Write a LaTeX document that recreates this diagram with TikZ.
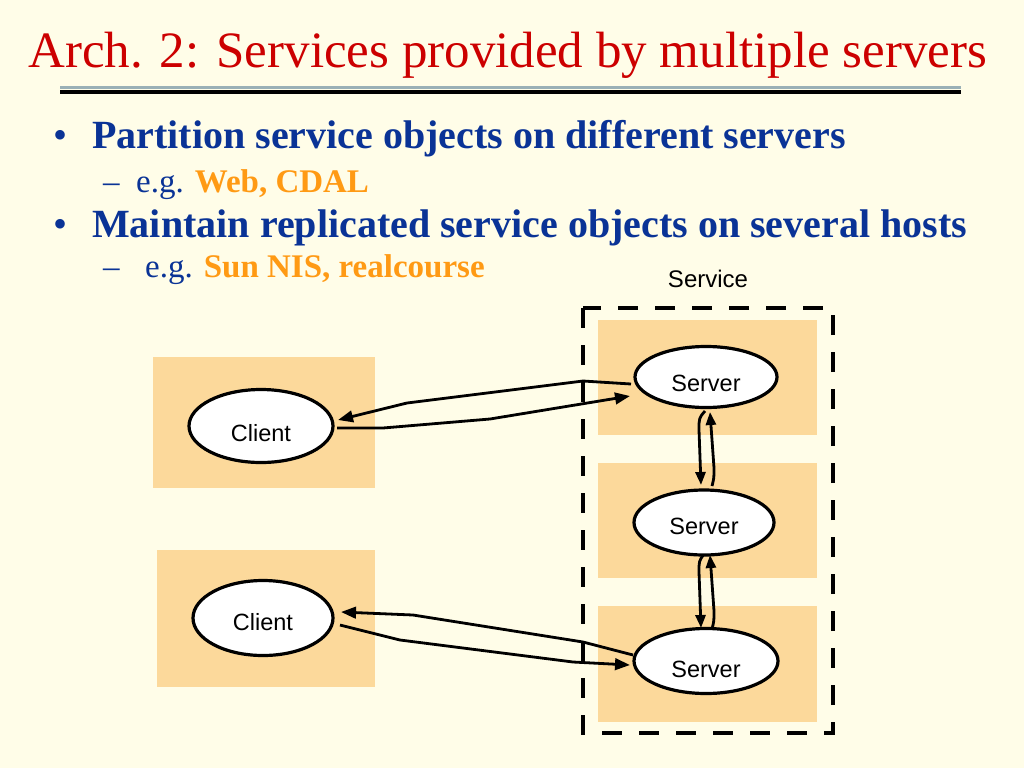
\documentclass[tikz,border=0pt]{standalone}
\usepackage{fontspec}
\setmainfont{Liberation Serif}
\newfontfamily\arialf{Liberation Sans}
\usetikzlibrary{shapes.geometric,arrows.meta}
\definecolor{bgc}{HTML}{FFFDE8}
\definecolor{tanc}{HTML}{FCD99B}
\definecolor{titlered}{HTML}{CC0000}
\definecolor{bluec}{HTML}{0A3396}
\definecolor{orangec}{HTML}{FF9A14}
\definecolor{greyc}{HTML}{9AB0B6}
\begin{document}
\begin{tikzpicture}[x=1pt,y=-1pt,
  tanbox/.style={fill=tanc,draw=none,inner sep=0,outer sep=0},
  ell/.style={ellipse,draw=black,line width=3.2pt,fill=white,inner sep=0,outer sep=0},
  lbl/.style={font=\arialf\fontsize{23.5}{26}\selectfont,inner sep=0},
  arr/.style={line width=2.8pt,-{Triangle[length=15pt,width=11.5pt]},line join=round},
  varr/.style={line width=2.8pt,-{Triangle[length=13pt,width=10pt]},line join=round},
  txt/.style={anchor=base west,inner sep=0},
]
\useasboundingbox (0,0) rectangle (1024,768);
\fill[bgc] (0,0) rectangle (1024,768);

% title
\node[txt,text=titlered,font=\fontsize{51}{60}\selectfont] (title) at (28,67) {Arch. 2: Services provided by multiple servers};
\draw[line width=2.4pt,greyc] (60,87.3) -- (961,87.3);
\draw[line width=4pt,black] (60,91.5) -- (961,91.5);

% bullets
\node[txt,text=bluec,font=\fontsize{40}{46}\selectfont] (b1dot) at (53,148) {•};
\node[txt,text=bluec,font=\fontsize{40}{46}\selectfont\bfseries] (b1) at (92,148) {Partition service objects on different servers};
\node[txt,text=bluec,font=\fontsize{33}{38}\selectfont] (s1dash) at (103,192) {–};
\node[txt,text=bluec,font=\fontsize{33}{38}\selectfont] (s1t) at (136,192) {e.g. \textcolor{orangec}{\bfseries Web, CDAL}};
\node[txt,text=bluec,font=\fontsize{40}{46}\selectfont] (b2dot) at (53,237) {•};
\node[txt,text=bluec,font=\fontsize{40}{46}\selectfont\bfseries] (b2) at (92,237) {Maintain replicated service objects on several hosts};
\node[txt,text=bluec,font=\fontsize{33}{38}\selectfont] (s2dash) at (103,277) {–};
\node[txt,text=bluec,font=\fontsize{33}{38}\selectfont] (s2t) at (145,277) {e.g. \textcolor{orangec}{\bfseries Sun NIS, realcourse}};

% service label
\node[anchor=base,inner sep=0,font=\arialf\fontsize{24}{28}\selectfont] (svc) at (708,287) {Service};

% tan boxes
\node[tanbox,minimum width=219pt,minimum height=115pt] (bx1) at (707.5,377.5) {};
\node[tanbox,minimum width=219pt,minimum height=115pt] (bx2) at (707.5,520.5) {};
\node[tanbox,minimum width=219pt,minimum height=116pt] (bx3) at (707.5,664) {};
\node[tanbox,minimum width=222pt,minimum height=131pt] (cb1) at (264,422.5) {};
\node[tanbox,minimum width=218pt,minimum height=137pt] (cb2) at (266,618.5) {};

% dashed service boundary
\draw[line width=3.2pt,dash pattern=on 20pt off 17pt] (583,308) rectangle (833,733);

% coordinates for connector ends
\coordinate (aS) at (631,384);
\coordinate (aC) at (338,420);
\coordinate (bC) at (337,428);
\coordinate (bS) at (630,396);
\coordinate (cS) at (633,655);
\coordinate (cC) at (341,612);
\coordinate (dC) at (340,625);
\coordinate (dS) at (630,665);
\coordinate (v1a) at (705,411);
\coordinate (v1b) at (701,485);
\coordinate (v2a) at (712,486);
\coordinate (v2b) at (710,412);
\coordinate (v3a) at (704,554);
\coordinate (v3b) at (701,628);
\coordinate (v4a) at (712,629);
\coordinate (v4b) at (710,555);

% connectors
\draw[arr] (aS) -- (583,381) -- (407,403) -- (aC);
\draw[arr] (bC) -- (383,428) -- (490,419) -- (bS);
\draw[arr] (cS) -- (583,642) -- (413,615) -- (cC);
\draw[arr] (dC) -- (400,640) -- (573,662) -- (dS);
\draw[varr] (v1a) .. controls (699,418) .. (699,430) -- (v1b);
\draw[varr] (v2a) .. controls (714,478) .. (714,468) -- (v2b);
\draw[varr] (v3a) .. controls (699,561) .. (699,572) -- (v3b);
\draw[varr] (v4a) .. controls (714,621) .. (714,611) -- (v4b);

% ellipses
\node[ell,minimum width=144pt,minimum height=73pt] (c1) at (261,426) {};
\node[lbl] at ([yshift=-7pt]c1.center) {Client};
\node[ell,minimum width=140pt,minimum height=75pt] (c2) at (263,618) {};
\node[lbl] at ([yshift=-4pt]c2.center) {Client};
\node[ell,minimum width=142pt,minimum height=61pt] (sv1) at (706,377) {};
\node[lbl] at ([yshift=-6pt]sv1.center) {Server};
\node[ell,minimum width=140pt,minimum height=65pt] (sv2) at (704,522.5) {};
\node[lbl] at ([yshift=-4pt]sv2.center) {Server};
\node[ell,minimum width=144pt,minimum height=65pt] (sv3) at (706,661) {};
\node[lbl] at ([yshift=-8pt]sv3.center) {Server};
\end{tikzpicture}
\end{document}
